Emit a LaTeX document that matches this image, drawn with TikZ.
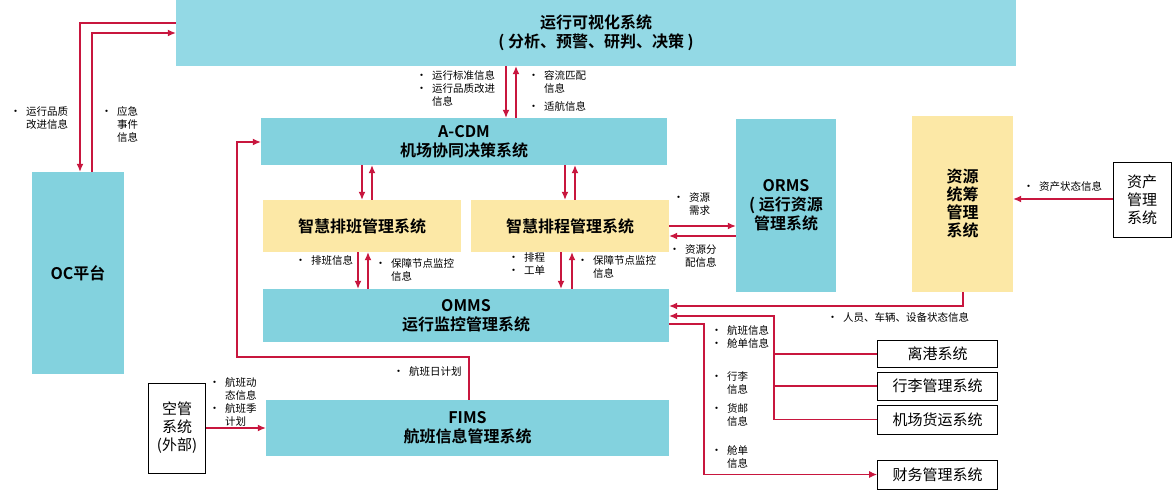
\documentclass[tikz,border=0pt]{standalone}
\usepackage{fontspec}
\setmainfont{Noto Sans CJK SC}[BoldFont={Noto Sans CJK SC Bold}]
\usepackage{tikz}
\usetikzlibrary{shapes}
\usetikzlibrary{arrows.meta}

\definecolor{skyc}{RGB}{131,210,222}
\definecolor{skylt}{RGB}{147,217,229}
\definecolor{sandc}{RGB}{252,232,166}
\definecolor{redc}{RGB}{200,22,62}

\newcommand{\bt}{\makebox[16pt][l]{\fontsize{11}{11}\selectfont\textbullet}}
\newcommand{\nb}{\hspace*{16pt}}

\begin{document}
\begin{tikzpicture}[x=1pt, y=-1pt]

  \tikzset{sysbox/.style = {fill=skyc, inner sep=0, align=center,
      font=\bfseries\fontsize{16}{19}\selectfont}}
  \tikzset{subbox/.style = {sysbox, fill=sandc}}
  \tikzset{extbox/.style = {draw=black, fill=white, inner sep=0, align=center,
      line width=0.8pt, font=\fontsize{15}{18}\selectfont}}
  \tikzset{lbl/.style = {anchor=north west, inner sep=0, align=left,
      font=\fontsize{10.5}{13}\selectfont}}
  \tikzset{flow/.style = {->, > = {Latex[length=8pt,width=7pt]}, draw=redc, line width=1.2pt}}
  \tikzset{wire/.style = {draw=redc, line width=1.2pt}}

  \useasboundingbox (0,0) rectangle (1172,490);

  % systems
  \node[sysbox, fill=skylt, minimum width=840, minimum height=66] (vis) at (596,33)
      {运行可视化系统\\( 分析、预警、研判、决策 )};
  \node[sysbox, minimum width=92, minimum height=202] (oc) at (78,273) {OC平台};
  \node[sysbox, minimum width=406, minimum height=47] (acdm) at (464,141.5)
      {A-CDM\\机场协同决策系统};
  \node[subbox, minimum width=198, minimum height=52] (pb) at (362,226) {智慧排班管理系统};
  \node[subbox, minimum width=198, minimum height=52] (pc) at (570,226) {智慧排程管理系统};
  \node[sysbox, minimum width=406, minimum height=53] (omms) at (466,315.5)
      {OMMS\\运行监控管理系统};
  \node[sysbox, minimum width=100, minimum height=173] (orms) at (786,205.5)
      {ORMS\\( 运行资源\\管理系统};
  \node[subbox, minimum width=101, minimum height=176, font=\bfseries\fontsize{16}{18}\selectfont]
      (zytc) at (962.5,204) {资源\\统筹\\管理\\系统};
  \node[sysbox, minimum width=403, minimum height=56] (fims) at (467.5,428)
      {FIMS\\航班信息管理系统};
  % external systems
  \node[extbox, minimum width=58, minimum height=75] (zc) at (1142,199.5) {资产\\管理\\系统};
  \node[extbox, minimum width=57, minimum height=90] (kg) at (177,428) {空管\\系统\\(外部)};
  \node[extbox, minimum width=120, minimum height=27] (lg) at (937.5,354) {离港系统};
  \node[extbox, minimum width=120, minimum height=28] (xl) at (937.5,386) {行李管理系统};
  \node[extbox, minimum width=120, minimum height=29] (hy) at (937.5,419.5) {机场货运系统};
  \node[extbox, minimum width=120, minimum height=29] (cw) at (937.5,474.5) {财务管理系统};

  % turning points
  \coordinate (jn) at (774,316);
  \coordinate (cwturn) at (704,324);
  \coordinate (fl) at (237,357);

  % flows
  \draw[flow] (vis.west |- 0,23) -| (oc.north -| 80,0);
  \draw[flow] (oc.north -| 92,0) |- (vis.west |- 0,33);
  \draw[flow] (vis.south -| 506,0) -- (acdm.north -| 506,0);
  \draw[flow] (acdm.north -| 516,0) -- (vis.south -| 516,0);
  \draw[flow] (acdm.south -| 362,0) -- (pb.north -| 362,0);
  \draw[flow] (pb.north -| 372,0) -- (acdm.south -| 372,0);
  \draw[flow] (acdm.south -| 565,0) -- (pc.north -| 565,0);
  \draw[flow] (pc.north -| 575,0) -- (acdm.south -| 575,0);
  \draw[flow] (pb.south -| 358,0) -- (omms.north -| 358,0);
  \draw[flow] (omms.north -| 368,0) -- (pb.south -| 368,0);
  \draw[flow] (pc.south -| 561,0) -- (omms.north -| 561,0);
  \draw[flow] (omms.north -| 572,0) -- (pc.south -| 572,0);
  \draw[flow] (pc.east |- 0,226) -- (orms.west |- 0,226);
  \draw[flow] (orms.west |- 0,236) -- (pc.east |- 0,236);
  \draw[flow] (zc.west |- 0,199) -- (zytc.east |- 0,199);
  \draw[flow] (zytc.south -| 963,0) |- (omms.east |- 0,306);
  \draw[wire] (lg.west) -- (lg.west -| jn);
  \draw[wire] (xl.west) -- (xl.west -| jn);
  \draw[flow] (hy.west) -| (jn) -- (omms.east |- jn);
  \draw[flow] (omms.east |- cwturn) -- (cwturn) |- (cw.west);
  \draw[flow] (fims.north -| 469,0) |- (fl) |- (acdm.west |- 0,142);
  \draw[flow] (kg.east) -- (fims.west);

  % labels
  \node[lbl] (t1) at (10,106) {\bt 运行品质\\\nb 改进信息};
  \node[lbl] (t2) at (101,106) {\bt 应急\\\nb 事件\\\nb 信息};
  \node[lbl] (t3) at (416,70) {\bt 运行标准信息\\\bt 运行品质改进\\\nb 信息};
  \node[lbl] (t4) at (528,70) {\bt 容流匹配\\\nb 信息};
  \node[lbl] (t5) at (528,101) {\bt 适航信息};
  \node[lbl] (t6) at (295,255) {\bt 排班信息};
  \node[lbl] (t7) at (375,258) {\bt 保障节点监控\\\nb 信息};
  \node[lbl] (t8) at (508,252) {\bt 排程\\\bt 工单};
  \node[lbl] (t9) at (577,255) {\bt 保障节点监控\\\nb 信息};
  \node[lbl] (t10) at (673,193) {\bt 资源\\\nb 需求};
  \node[lbl] (t11) at (669,245) {\bt 资源分\\\nb 配信息};
  \node[lbl] (t12) at (1023,181) {\bt 资产状态信息};
  \node[lbl] (t13) at (827,312) {\bt 人员、车辆、设备状态信息};
  \node[lbl] (t14) at (711,325) {\bt 航班信息\\\bt 舱单信息};
  \node[lbl] (t15) at (711,371) {\bt 行李\\\nb 信息};
  \node[lbl] (t16) at (711,403) {\bt 货邮\\\nb 信息};
  \node[lbl] (t17) at (711,445) {\bt 舱单\\\nb 信息};
  \node[lbl] (t18) at (393,366) {\bt 航班日计划};
  \node[lbl] (t19) at (209,377) {\bt 航班动\\\nb 态信息\\\bt 航班季\\\nb 计划};
\end{tikzpicture}
\end{document}
